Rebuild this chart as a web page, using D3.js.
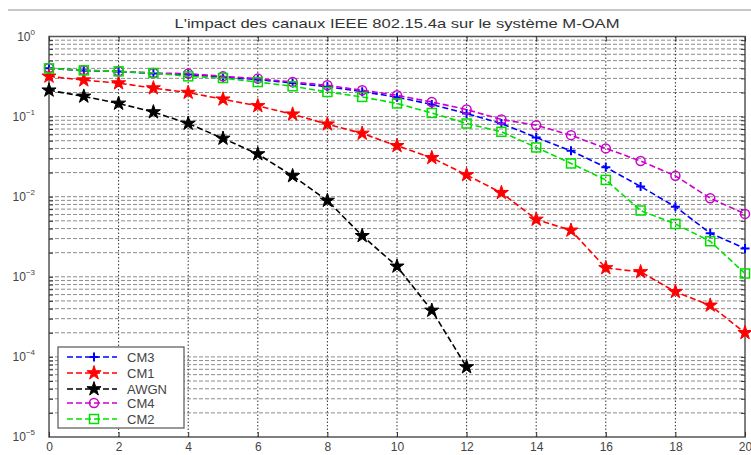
<!DOCTYPE html>
<html><head><meta charset="utf-8">
<script src="https://cdn.jsdelivr.net/npm/d3@7"></script>
<style>html,body{margin:0;padding:0;background:#fff;}svg{display:block;font-family:"Liberation Sans",Arial,sans-serif;}</style>
</head><body><svg id="c" width="751" height="455"></svg>
<script>
const snr = [0,1,2,3,4,5,6,7,8,9,10,11,12,13,14,15,16,17,18,19,20];
const snrAwgn = [0,1,2,3,4,5,6,7,8,9,10,11,12];
const cm3 = [0.40,0.375,0.365,0.345,0.335,0.31,0.29,0.262,0.236,0.205,0.175,0.142,0.109,0.082,0.055,0.0374,0.0233,0.0134,0.0075,0.0035,0.00226];
const cm1 = [0.318,0.285,0.262,0.227,0.1995,0.1646,0.136,0.107,0.0804,0.0616,0.0432,0.0306,0.0187,0.0112,0.0052,0.0038,0.00129,0.00115,0.00065,0.00044,0.0002];
const awgn = [0.213,0.179,0.146,0.114,0.082,0.0534,0.0341,0.0182,0.00895,0.00325,0.00135,0.00038,0.0000748];
const cm4 = [0.403,0.378,0.367,0.35,0.344,0.318,0.298,0.270,0.246,0.213,0.185,0.152,0.1226,0.092,0.078,0.0587,0.0401,0.0279,0.0182,0.00958,0.0061];
const cm2 = [0.40,0.378,0.367,0.35,0.318,0.303,0.27,0.239,0.203,0.176,0.146,0.111,0.082,0.0646,0.0412,0.026,0.0162,0.00672,0.00457,0.00278,0.0011];
const xTicks = [0,2,4,6,8,10,12,14,16,18,20];
const yDecades = [0,-1,-2,-3,-4,-5];
const title = "L'impact des canaux IEEE 802.15.4a sur le système M-OAM";

const series = [
  {name:"CM3", x:snr, y:cm3, color:"#0000ff", marker:"plus"},
  {name:"CM1", x:snr, y:cm1, color:"#ff0000", marker:"star"},
  {name:"AWGN", x:snrAwgn, y:awgn, color:"#000000", marker:"star"},
  {name:"CM4", x:snr, y:cm4, color:"#cc00cc", marker:"circle"},
  {name:"CM2", x:snr, y:cm2, color:"#00e000", marker:"square"}
];

const svg = d3.select("#c");
const L=49, R=745, T=36.5, B=437;
const x = d3.scaleLinear().domain([0,20]).range([L,R]);
const y = d3.scaleLog().domain([1e-5,1]).range([B,T]);

// top separator line
svg.append("line").attr("x1",8).attr("x2",751).attr("y1",10).attr("y2",10).attr("stroke","#c8c8c8").attr("stroke-width",2);

// grid horizontal (minor+major)
const hVals=[];
for(let k=-5;k<0;k++){for(let m=1;m<10;m++){hVals.push(m*Math.pow(10,k));}}
hVals.push(1);
const inner = hVals.filter(v=>v>1e-5&&v<1);
svg.append("g").selectAll("line").data(inner).join("line")
  .attr("x1",L).attr("x2",R).attr("y1",d=>y(d)).attr("y2",d=>y(d))
  .attr("stroke","#666").attr("stroke-width",1).attr("stroke-dasharray","4,2").attr("opacity",0.75);
// grid vertical
svg.append("g").selectAll("line").data(xTicks.filter(v=>v>0&&v<20)).join("line")
  .attr("x1",d=>x(d)).attr("x2",d=>x(d)).attr("y1",T).attr("y2",B)
  .attr("stroke","#333").attr("stroke-width",1).attr("stroke-dasharray","1.5,2");

// frame
svg.append("rect").attr("x",L).attr("y",T).attr("width",R-L).attr("height",B-T)
  .attr("fill","none").attr("stroke","#555").attr("stroke-width",1.5);

// axes ticks
const xAxis = d3.axisBottom(x).tickValues(xTicks).tickSize(-5).tickPadding(5).tickFormat(d3.format("d"));
const gx = svg.append("g").attr("transform",`translate(0,${B})`).call(xAxis);
gx.select(".domain").remove();
gx.selectAll("line").attr("stroke","#333");
gx.selectAll("text").attr("font-size",12).attr("fill","#444").attr("font-family","Liberation Sans, Arial, sans-serif");
// top ticks
svg.append("g").attr("transform",`translate(0,${T})`).call(d3.axisTop(x).tickValues(xTicks).tickSize(-5).tickFormat(""))
  .call(g=>{g.select(".domain").remove();g.selectAll("line").attr("stroke","#333");});

const gy = svg.append("g").attr("transform",`translate(${L},0)`).call(d3.axisLeft(y).tickValues(inner).tickSize(-4).tickFormat(""));
gy.select(".domain").remove(); gy.selectAll("line").attr("stroke","#333");
const gyr = svg.append("g").attr("transform",`translate(${R},0)`).call(d3.axisRight(y).tickValues(inner).tickSize(-4).tickFormat(""));
gyr.select(".domain").remove(); gyr.selectAll("line").attr("stroke","#333");

// y decade labels
const yl = svg.append("g").selectAll("text").data(yDecades).join("text")
  .attr("x",L-14).attr("y",d=>y(Math.pow(10,d))+4).attr("text-anchor","end")
  .attr("font-size",12).attr("fill","#444");
yl.append("tspan").text("10");
yl.append("tspan").attr("dy",-6).attr("font-size",8).text(d=>String(d).replace("-","\u2212"));

// title
svg.append("text").attr("x",(L+R)/2).attr("y",28).attr("text-anchor","middle")
  .attr("font-size",13).attr("fill","#333").attr("textLength",445).attr("lengthAdjust","spacingAndGlyphs").text(title);

// markers
function drawMarker(g, type, color){
  if(type==="plus"){g.append("path").attr("d","M-4.5,0H4.5M0,-4.5V4.5").attr("stroke",color).attr("stroke-width",2).attr("fill","none");}
  else if(type==="star"){g.append("path").attr("d",d3.symbol().type(d3.symbolStar).size(62)()).attr("fill",color).attr("stroke",color).attr("stroke-width",1);}
  else if(type==="circle"){g.append("circle").attr("r",4.5).attr("fill","none").attr("stroke",color).attr("stroke-width",1.5);}
  else if(type==="square"){g.append("rect").attr("x",-4.5).attr("y",-4.5).attr("width",9).attr("height",9).attr("fill","none").attr("stroke",color).attr("stroke-width",1.5);}
}

const line = d3.line().x(d=>x(d[0])).y(d=>y(d[1]));
series.forEach(s=>{
  const pts = s.x.map((v,i)=>[v,s.y[i]]);
  svg.append("path").datum(pts).attr("d",line).attr("fill","none").attr("stroke",s.color)
    .attr("stroke-width",1.6).attr("stroke-dasharray","6,3");
  pts.forEach(p=>{const g=svg.append("g").attr("transform",`translate(${x(p[0])},${y(p[1])})`);drawMarker(g,s.marker,s.color);});
});

// legend
const lg = svg.append("g");
lg.append("rect").attr("x",58).attr("y",347).attr("width",126).attr("height",81).attr("fill","#fff").attr("stroke","#555").attr("stroke-width",1.2);
const rows=[357,373,389,403,419];
series.forEach((s,i)=>{
  const yy=rows[i];
  lg.append("line").attr("x1",67).attr("x2",117).attr("y1",yy).attr("y2",yy).attr("stroke",s.color).attr("stroke-width",1.6).attr("stroke-dasharray","6,3");
  drawMarker(lg.append("g").attr("transform",`translate(94,${yy})`), s.marker, s.color);
  lg.append("text").attr("x",127).attr("y",yy+4.5).attr("font-size",13).attr("fill","#444").text(s.name);
});
</script></body></html>
